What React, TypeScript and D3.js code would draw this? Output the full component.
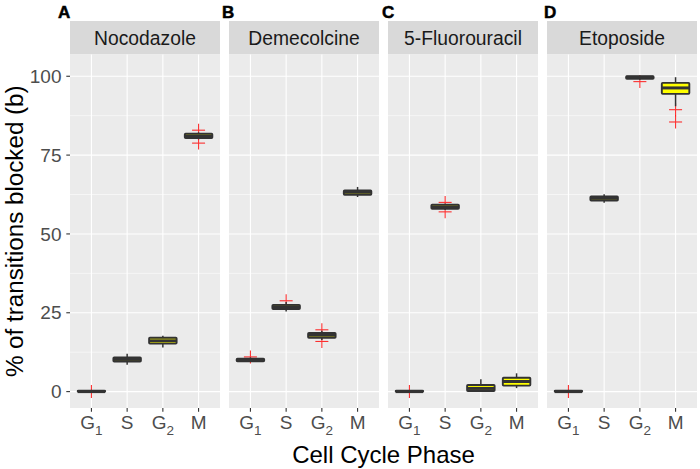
import * as d3 from 'd3';

// facet / category labels
const drugs = ['Nocodazole', 'Demecolcine', '5-Fluorouracil', 'Etoposide'];
const panelLetters = ['A', 'B', 'C', 'D'];
const phases = ['G1', 'S', 'G2', 'M'];
const yTicks = [0, 25, 50, 75, 100];
const yMinor = [12.5, 37.5, 62.5, 87.5];

// boxplot stats, one row per drug, one value per phase (G1, S, G2, M)
const whiskerLow = [
  [0, 8.5, 14.0, 80.0],
  [9.4, 25.4, 16.4, 61.7],
  [0, 57.6, 0.2, 1.1],
  [0, 59.9, 98.9, 90.5],
];
const q1 = [
  [0, 9.5, 15.2, 80.4],
  [9.6, 26.2, 17.1, 62.4],
  [0, 58.0, 0.2, 1.9],
  [0, 60.6, 99.2, 94.4],
];
const medians = [
  [0, 10.2, 16.1, 81.1],
  [10.0, 26.9, 17.9, 63.2],
  [0, 58.6, 1.0, 3.2],
  [0, 61.3, 99.7, 96.3],
];
const q3 = [
  [0.3, 10.8, 17.1, 81.8],
  [10.4, 27.5, 18.6, 63.8],
  [0.3, 59.3, 2.1, 4.4],
  [0.3, 61.9, 100, 97.9],
];
const whiskerHigh = [
  [0.3, 12.0, 17.7, 82.2],
  [10.8, 28.4, 19.3, 64.9],
  [0.3, 59.6, 3.9, 5.8],
  [0.3, 62.6, 100, 99.7],
];
const outliers = [
  [[0], [], [], [82.9, 78.8]],
  [[11.0], [28.8], [19.6, 15.9], []],
  [[0], [60.0, 57.0], [], []],
  [[0], [], [98.3], [89.4, 85.5]],
];

const W = 700;
const H = 469;
const FONT = '"Liberation Sans", Arial, Helvetica, sans-serif';
const PANEL_BG = '#EBEBEB';
const STRIP_BG = '#D9D9D9';
const BOX_LINE = '#333333';
const BOX_FILL = '#FFFF00';
const OUTLIER = '#FF0000';

const panelW = 150;
const panelGap = 9;
const panelLeft = 70;
const stripTop = 21;
const panelTop = 54.5;
const panelBottom = 408;
const letterX = [58, 222, 382, 544];

const y = d3.scaleLinear().domain([-5.2, 106.9]).range([panelBottom, panelTop]);

function PhaseLabel({ p, x }: { p: string; x: number }) {
  const base = p[0];
  const sub = p.length > 1 ? p.slice(1) : '';
  return (
    <text x={x} y={428.5} textAnchor="middle" fontSize={19} fill="#4D4D4D">
      {base}
      {sub && (
        <tspan fontSize={13.5} dy={6}>
          {sub}
        </tspan>
      )}
    </text>
  );
}

function Panel({ i }: { i: number }) {
  const x0 = panelLeft + i * (panelW + panelGap);
  const x = d3.scalePoint<string>().domain(phases).range([x0, x0 + panelW]).padding(0.6);
  const bw = x.step() * 0.77;
  const plus = 6.5;

  return (
    <g>
      {/* strip */}
      <rect x={x0} y={stripTop} width={panelW} height={panelTop - stripTop} fill={STRIP_BG} />
      <text x={x0 + panelW / 2} y={45} textAnchor="middle" fontSize={19.3} fill="#1A1A1A">
        {drugs[i]}
      </text>
      <text
        x={letterX[i]}
        y={17.5}
        fontSize={17}
        fontWeight="bold"
        fill="#000"
        stroke="#000"
        strokeWidth={0.5}
      >
        {panelLetters[i]}
      </text>

      {/* panel background + grid */}
      <rect x={x0} y={panelTop} width={panelW} height={panelBottom - panelTop} fill={PANEL_BG} />
      {yMinor.map((t) => (
        <line key={'m' + t} x1={x0} x2={x0 + panelW} y1={y(t)} y2={y(t)} stroke="#fff" strokeWidth={0.55} />
      ))}
      {yTicks.map((t) => (
        <line key={'M' + t} x1={x0} x2={x0 + panelW} y1={y(t)} y2={y(t)} stroke="#fff" strokeWidth={1.1} />
      ))}
      {phases.map((p) => (
        <line key={'v' + p} x1={x(p)!} x2={x(p)!} y1={panelTop} y2={panelBottom} stroke="#fff" strokeWidth={1.1} />
      ))}

      {/* boxes */}
      {phases.map((p, j) => {
        const cx = x(p)!;
        return (
          <g key={'b' + p}>
            {outliers[i][j].map((v, k) => (
              <g key={k} stroke={OUTLIER} strokeWidth={1.1} opacity={0.8}>
                <line x1={cx - plus} x2={cx + plus} y1={y(v)} y2={y(v)} />
                <line x1={cx} x2={cx} y1={y(v) - plus} y2={y(v) + plus} />
              </g>
            ))}
            <line x1={cx} x2={cx} y1={y(whiskerHigh[i][j])} y2={y(q3[i][j])} stroke={BOX_LINE} strokeWidth={1.5} />
            <line x1={cx} x2={cx} y1={y(q1[i][j])} y2={y(whiskerLow[i][j])} stroke={BOX_LINE} strokeWidth={1.5} />
            <rect
              x={cx - bw / 2}
              y={y(q3[i][j])}
              width={bw}
              height={Math.max(0, y(q1[i][j]) - y(q3[i][j]))}
              rx={0.8}
              fill={BOX_FILL}
              stroke={BOX_LINE}
              strokeWidth={1.9}
            />
            <line
              x1={cx - bw / 2}
              x2={cx + bw / 2}
              y1={y(medians[i][j])}
              y2={y(medians[i][j])}
              stroke={BOX_LINE}
              strokeWidth={3}
            />
          </g>
        );
      })}

      {/* x axis */}
      {phases.map((p) => (
        <g key={'t' + p}>
          <line x1={x(p)!} x2={x(p)!} y1={panelBottom} y2={panelBottom + 3.7} stroke="#333" strokeWidth={1.1} />
          <PhaseLabel p={p} x={x(p)!} />
        </g>
      ))}
    </g>
  );
}

export default function App() {
  const centerX = panelLeft + (4 * panelW + 3 * panelGap) / 2;
  return (
    <svg
      width={W}
      height={H}
      viewBox={`0 0 ${W} ${H}`}
      style={{ position: 'absolute', left: 0, top: 0, background: '#fff', fontFamily: FONT }}
    >
      <rect width={W} height={H} fill="#fff" />
      {drugs.map((_, i) => (
        <Panel key={i} i={i} />
      ))}

      {/* y axis */}
      {yTicks.map((t) => (
        <g key={t}>
          <line x1={panelLeft - 3.7} x2={panelLeft} y1={y(t)} y2={y(t)} stroke="#333" strokeWidth={1.1} />
          <text x={61.5} y={y(t)} dy="0.35em" textAnchor="end" fontSize={19} fill="#4D4D4D">
            {t}
          </text>
        </g>
      ))}

      <text x={centerX} y={463} textAnchor="middle" fontSize={24} fill="#000">
        Cell Cycle Phase
      </text>
      <text
        transform={`translate(23, ${(panelTop + panelBottom) / 2}) rotate(-90)`}
        textAnchor="middle"
        fontSize={24.2}
        fill="#000"
      >
        % of transitions blocked (b)
      </text>
    </svg>
  );
}
